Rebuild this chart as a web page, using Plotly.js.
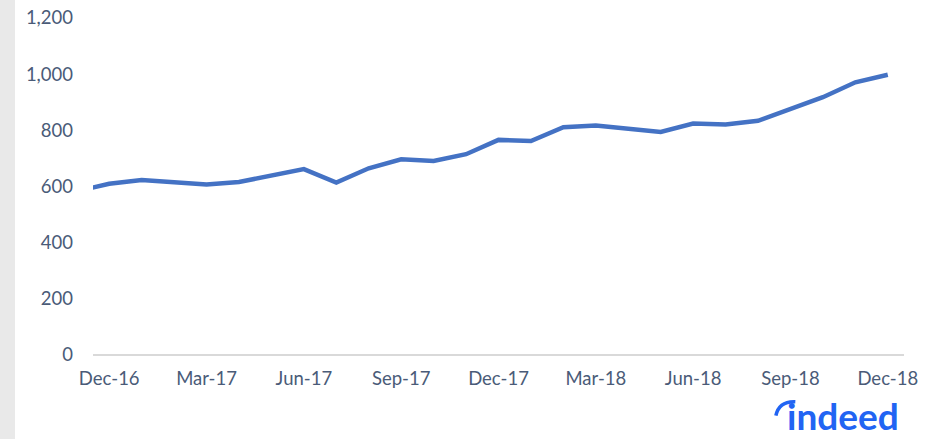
<!DOCTYPE html>
<html>
<head>
<meta charset="utf-8">
<script src="https://cdn.plot.ly/plotly-3.0.1.min.js"></script>
<style>
  html, body { margin: 0; padding: 0; background: #ffffff; }
  #chart { width: 932px; height: 439px; }
</style>
</head>
<body>
<div id="chart"></div>
<script>
// Months (monthly series, Nov-16 partly hidden at the left edge)
const months = ["Nov-16","Dec-16","Jan-17","Feb-17","Mar-17","Apr-17","May-17","Jun-17","Jul-17","Aug-17","Sep-17","Oct-17","Nov-17",
                "Dec-17","Jan-18","Feb-18","Mar-18","Apr-18","May-18","Jun-18","Jul-18","Aug-18","Sep-18","Oct-18","Nov-18","Dec-18"];
const values = [583, 610, 623, 615, 607, 616, 637, 662, 614, 665, 697, 691, 715,
                766, 762, 811, 817, 807, 794, 824, 821, 834, 876, 918, 971, 998];
const tickLabels = ["Dec-16","Mar-17","Jun-17","Sep-17","Dec-17","Mar-18","Jun-18","Sep-18","Dec-18"];
const yTicks = [0, 200, 400, 600, 800, 1000, 1200];

const labelFont = {family: "Lato, 'Open Sans', sans-serif", size: 18.5, color: "#4a5b78"};

const trace = {
  x: months,
  y: values,
  type: "scatter",
  mode: "lines",
  line: {color: "#4472c4", width: 4.5},
  hoverinfo: "x+y"
};

const layout = {
  width: 932,
  height: 439,
  margin: {l: 93, r: 28, t: 18, b: 84},
  paper_bgcolor: "#ffffff",
  plot_bgcolor: "#ffffff",
  showlegend: false,
  xaxis: {
    type: "category",
    range: [0.5, months.length - 0.5],
    tickmode: "array",
    tickvals: tickLabels,
    ticktext: tickLabels,
    showgrid: false,
    zeroline: false,
    showline: false,
    ticks: "",
    tickfont: labelFont,
    ticklabelstandoff: 10
  },
  yaxis: {
    range: [0, 1200],
    tickmode: "array",
    tickvals: yTicks,
    ticktext: yTicks.map(v => v.toLocaleString("en-US")),
    showgrid: false,
    zeroline: true,
    zerolinecolor: "#d9d9d9",
    zerolinewidth: 1.5,
    showline: false,
    ticks: "",
    tickfont: labelFont,
    ticklabelstandoff: 19
  },
  shapes: [
    {type: "rect", xref: "paper", yref: "paper",
     x0: -93/811, x1: -78/811, y0: -84/337, y1: 355/337,
     fillcolor: "#e9e9e9", line: {width: 0}, layer: "below"},
    {type: "path", xref: "paper", yref: "paper",
     path: "M 0.842 -0.180 Q 0.846 -0.137 0.866 -0.139",
     line: {color: "#2164f3", width: 3.5}}
  ],
  annotations: [
    {text: "<b>indeed</b>", xref: "paper", yref: "paper",
     x: (843 - 93)/811, y: -83.5/337, xanchor: "center", yanchor: "bottom",
     showarrow: false, borderpad: 0,
     font: {family: "Lato, 'Open Sans', sans-serif", size: 37, color: "#2164f3"}}
  ]
};

Plotly.newPlot("chart", [trace], layout, {displayModeBar: false, staticPlot: true});
</script>
</body>
</html>
